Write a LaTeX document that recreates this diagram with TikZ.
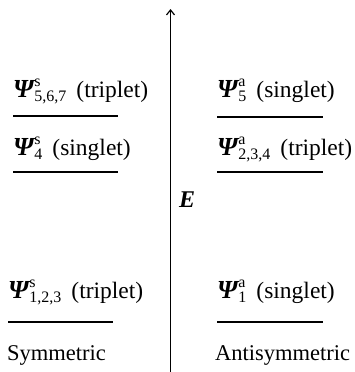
\documentclass[tikz,border=0pt]{standalone}
\usepackage{fontspec}
\setmainfont{Liberation Serif}
\usetikzlibrary{arrows.meta}
\tikzset{
  lvl/.style={line width=1.4pt},
  lab/.style={anchor=base west, inner sep=0pt, font=\fontsize{23.5}{25}\selectfont},
  side/.style={anchor=base west, inner sep=0pt, font=\fontsize{22.5}{24}\selectfont},
  axis/.style={line width=1.2pt, -{Straight Barb[length=5pt,width=8pt,line width=1.2pt]}},
}
\newcommand{\lev}[3]{{\fontsize{26}{27}\selectfont\bfseries\itshape Ψ}\kern0.5pt\rlap{\raisebox{10.5pt}{\fontsize{16}{17}\selectfont #1}}\raisebox{-4pt}{\fontsize{16}{17}\selectfont #2}\hspace{10pt}(#3)}
\begin{document}
\begin{tikzpicture}[x=1pt,y=-1pt]
\useasboundingbox (0,0) rectangle (355,372);
% axis
\coordinate (a0) at (170.5,372);
\coordinate (a1) at (170.5,9);
\draw[axis] (a0) -- (a1);
\node[anchor=base west, inner sep=0pt, font=\fontsize{24}{26}\selectfont\itshape\bfseries] (E) at (179,207) {E};
% left levels
\node[lab] (s567) at (13,97) {\lev{s}{5,6,7}{triplet}};
\coordinate (l1a) at (13,116); \coordinate (l1b) at (118,116);
\draw[lvl] (l1a) -- (l1b);
\node[lab] (s4) at (13,155) {\lev{s}{4}{singlet}};
\coordinate (l2a) at (13,172); \coordinate (l2b) at (118,172);
\draw[lvl] (l2a) -- (l2b);
\node[lab] (s123) at (8,298) {\lev{s}{1,2,3}{triplet}};
\coordinate (l3a) at (8,322); \coordinate (l3b) at (113,322);
\draw[lvl] (l3a) -- (l3b);
\node[side] (sym) at (7,360) {Symmetric};
% right levels
\node[lab] (a5) at (217,97) {\lev{a}{5}{singlet}};
\coordinate (r1a) at (217,117); \coordinate (r1b) at (323,117);
\draw[lvl] (r1a) -- (r1b);
\node[lab] (a234) at (217,155) {\lev{a}{2,3,4}{triplet}};
\coordinate (r2a) at (217,172); \coordinate (r2b) at (323,172);
\draw[lvl] (r2a) -- (r2b);
\node[lab] (a1) at (217,298) {\lev{a}{1}{singlet}};
\coordinate (r3a) at (217,322); \coordinate (r3b) at (323,322);
\draw[lvl] (r3a) -- (r3b);
\node[side] (asym) at (215,360) {Antisymmetric};
\end{tikzpicture}
\end{document}
